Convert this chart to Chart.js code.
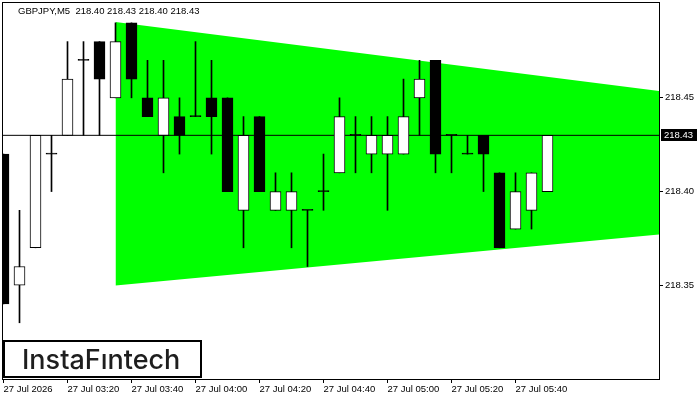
<!DOCTYPE html>
<html>
<head>
<meta charset="utf-8">
<title>GBPJPY M5</title>
<script src="https://cdn.jsdelivr.net/npm/chart.js@4.4.1/dist/chart.umd.min.js"></script>
<style>
  html, body { margin: 0; padding: 0; background: #fff; }
  #wrap { width: 700px; height: 400px; }
</style>
</head>
<body>
<div id="wrap"><canvas id="chart"></canvas></div>
<script>
// velas GBPJPY M5 (índice 0 = 03:00)
const opens  = [218.42, 218.35, 218.37, 218.42, 218.43, 218.47, 218.48, 218.45, 218.49, 218.45,
                218.43, 218.44, 218.44, 218.45, 218.45, 218.39, 218.44, 218.39, 218.39, 218.39,
                218.40, 218.41, 218.43, 218.42, 218.42, 218.42, 218.45, 218.47, 218.43, 218.42,
                218.43, 218.41, 218.38, 218.39, 218.40];
const highs  = [218.42, 218.39, 218.43, 218.43, 218.48, 218.48, 218.48, 218.49, 218.49, 218.47,
                218.47, 218.45, 218.48, 218.47, 218.45, 218.44, 218.44, 218.41, 218.41, 218.39,
                218.42, 218.45, 218.44, 218.44, 218.44, 218.46, 218.47, 218.47, 218.43, 218.43,
                218.43, 218.41, 218.41, 218.41, 218.43];
const lows   = [218.34, 218.33, 218.37, 218.40, 218.43, 218.43, 218.43, 218.45, 218.45, 218.44,
                218.41, 218.42, 218.44, 218.42, 218.40, 218.37, 218.40, 218.39, 218.37, 218.36,
                218.39, 218.41, 218.41, 218.41, 218.39, 218.42, 218.43, 218.41, 218.41, 218.42,
                218.40, 218.37, 218.38, 218.38, 218.40];
const closes = [218.34, 218.36, 218.43, 218.42, 218.46, 218.47, 218.46, 218.48, 218.46, 218.44,
                218.45, 218.43, 218.44, 218.44, 218.40, 218.43, 218.40, 218.40, 218.40, 218.39,
                218.40, 218.44, 218.43, 218.43, 218.43, 218.44, 218.46, 218.42, 218.43, 218.42,
                218.42, 218.37, 218.40, 218.41, 218.43];

// triángulo (bordes superior e inferior)
const triX     = [7, 41];
const triUpper = [218.4905, 218.4536];
const triLower = [218.3499, 218.3771];

const xTickIdx    = [0, 4, 8, 12, 16, 20, 24, 28, 32];
const xTickLabels = ['27 Jul 2026', '27 Jul 03:20', '27 Jul 03:40', '27 Jul 04:00', '27 Jul 04:20',
                     '27 Jul 04:40', '27 Jul 05:00', '27 Jul 05:20', '27 Jul 05:40'];
const yTicks = [218.35, 218.40, 218.45];

const xMin = -1 / 32, xMax = 41 - 1 / 32;
const lastClose = closes[closes.length - 1];
const header = 'GBPJPY,M5  ' + [opens, highs, lows, closes].map(a => a[a.length - 1].toFixed(2)).join(' ');

Chart.defaults.font.family = "'Liberation Sans', Arial, sans-serif";
Chart.defaults.font.size = 9.5;
Chart.defaults.color = '#000';

const idx = opens.map((_, i) => i);

const overlay = {
  id: 'overlay',
  afterDraw(chart) {
    const c = chart.ctx, a = chart.chartArea;
    c.save();
    // marco del gráfico
    c.strokeStyle = '#000';
    c.lineWidth = 1;
    c.strokeRect(a.left - 0.5, a.top - 0.5, a.right - a.left + 1, a.bottom - a.top + 1);
    // título
    c.fillStyle = '#000';
    c.font = "9.5px 'Liberation Sans', Arial, sans-serif";
    c.textBaseline = 'middle';
    c.textAlign = 'left';
    c.fillText(header, 18, 11);
    // etiqueta del precio actual
    const py = Math.round(chart.scales.y.getPixelForValue(lastClose));
    c.fillStyle = '#000';
    c.fillRect(661, py - 6, 36, 12);
    c.fillStyle = '#fff';
    c.fillText(lastClose.toFixed(2), 664, py + 0.5);
    // logo
    c.fillStyle = '#fff';
    c.fillRect(4, 341, 197, 36);
    c.lineWidth = 2;
    c.strokeStyle = '#000';
    c.strokeRect(4, 341, 197, 36);
    c.fillStyle = '#1e1e1e';
    c.font = "500 27px Inter, 'Noto Sans', sans-serif";
    c.textBaseline = 'alphabetic';
    c.fillText('InstaFıntech', 22, 369);
    c.restore();
  }
};

new Chart(document.getElementById('chart'), {
  type: 'bar',
  data: {
    datasets: [
      {
        type: 'bar',
        label: 'cuerpos',
        data: idx.map(i => ({ x: i, y: [opens[i], closes[i]] })),
        backgroundColor: idx.map(i => closes[i] > opens[i] ? '#ffffff' : '#000000'),
        borderColor: '#000',
        borderWidth: 1,
        borderSkipped: false,
        barThickness: 11,
        minBarLength: 1,
        grouped: false,
        order: 1
      },
      {
        type: 'bar',
        label: 'mechas',
        data: idx.map(i => ({ x: i, y: [lows[i], highs[i]] })),
        backgroundColor: '#000',
        borderWidth: 0,
        barThickness: 1,
        grouped: false,
        order: 2
      },
      {
        type: 'line',
        label: 'precio',
        data: [{ x: xMin, y: lastClose }, { x: xMax, y: lastClose }],
        borderColor: '#000',
        borderWidth: 1,
        pointRadius: 0,
        fill: false,
        order: 5
      },
      {
        type: 'line',
        label: 'superior',
        data: triX.map((x, i) => ({ x, y: triUpper[i] })),
        borderWidth: 0,
        borderColor: 'rgba(0,0,0,0)',
        backgroundColor: '#00ff00',
        pointRadius: 0,
        fill: '+1',
        order: 10
      },
      {
        type: 'line',
        label: 'inferior',
        data: triX.map((x, i) => ({ x, y: triLower[i] })),
        borderWidth: 0,
        borderColor: 'rgba(0,0,0,0)',
        pointRadius: 0,
        fill: false,
        order: 10
      }
    ]
  },
  options: {
    responsive: true,
    maintainAspectRatio: false,
    animation: false,
    layout: { padding: { left: 3, top: 3, right: 0, bottom: 0 } },
    plugins: {
      legend: { display: false },
      tooltip: { enabled: false }
    },
    scales: {
      x: {
        type: 'linear',
        min: xMin,
        max: xMax,
        offset: false,
        grid: { display: true, drawOnChartArea: false, drawTicks: true, tickLength: 4, color: '#000', offset: false },
        border: { display: false },
        afterBuildTicks(s) { s.ticks = xTickIdx.map(v => ({ value: v })); },
        afterFit(s) { s.height = 21; s.paddingLeft = 0; s.paddingRight = 0; },
        ticks: {
          autoSkip: false,
          maxRotation: 0,
          align: 'start',
          padding: 1,
          callback: v => xTickLabels[xTickIdx.indexOf(v)]
        }
      },
      y: {
        type: 'linear',
        position: 'right',
        min: 218.30,
        max: 218.5006,
        grid: { display: true, drawOnChartArea: false, drawTicks: true, tickLength: 4, color: '#000' },
        border: { display: false },
        afterBuildTicks(s) { s.ticks = yTicks.map(v => ({ value: v })); },
        afterFit(s) { s.width = 41; s.paddingTop = 0; s.paddingBottom = 0; },
        ticks: {
          padding: 2,
          callback: v => v.toFixed(2)
        }
      }
    }
  },
  plugins: [overlay]
});
</script>
</body>
</html>
